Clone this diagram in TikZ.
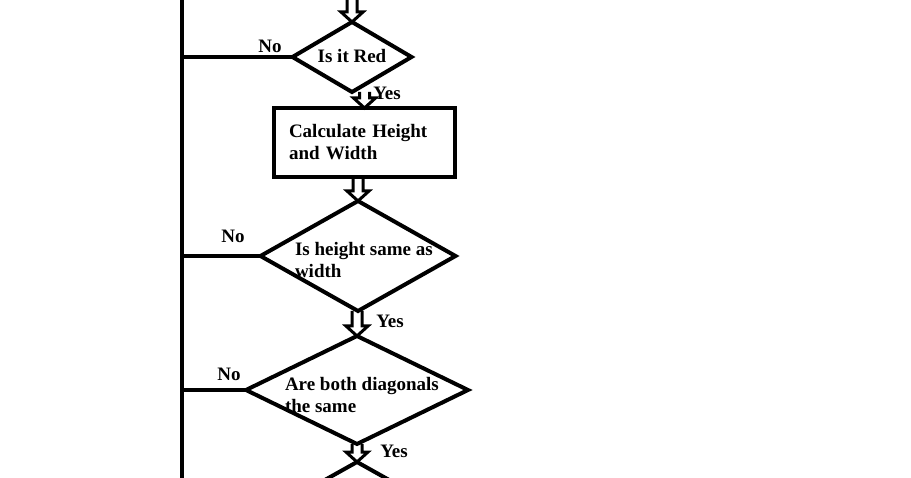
\documentclass[tikz,border=0pt]{standalone}
\usepackage{fontspec}
\setmainfont{Liberation Serif}
\usetikzlibrary{shapes.geometric,calc}

% hollow block arrow pointing down onto the second node
\newcommand{\hollowarrow}[2]{%
  \draw[arrowline] let \p1=(#1), \p2=(#2) in
    (\x2-5pt,\y1) -- (\x2-5pt,\y2+10pt) -- (\x2-11pt,\y2+10pt) -- (\x2,\y2)
    -- (\x2+11pt,\y2+10pt) -- (\x2+5pt,\y2+10pt) -- (\x2+5pt,\y1);%
}

\begin{document}
\begin{tikzpicture}[x=1pt,y=-1pt,
    every node/.style={font=\bfseries\fontsize{19}{22}\selectfont,inner sep=0pt,outer sep=0pt},
    decision/.style n args={2}{diamond,draw,line width=4pt,minimum width=#1,minimum height=#2},
    process/.style={draw,line width=4pt,minimum width=181pt,minimum height=69pt,text width=151pt,align=left},
    arrowline/.style={line width=3pt,line join=miter},
    rail/.style={line width=4pt}]

        \useasboundingbox (0,0) rectangle (911,478);
        \clip (0,0) rectangle (911,478);

        \node[decision={119pt}{70pt}] (isRed) at (352,57) {};
        \node (isRedText) at (352,56) {Is it Red};

        \node[process] (calc) at (364.5,142.5) {Calculate Height\\and Width};

        \node[decision={195pt}{110pt}] (isSquare) at (358,256) {};
        \node[anchor=west,align=left] (isSquareText) at (295,260) {Is height same as\\width};

        \node[decision={222pt}{108pt}] (isDiag) at (357,390) {};
        \node[anchor=west,align=left] (isDiagText) at (285,395) {Are both diagonals\\the same};

        \node[decision={200pt}{112pt}] (next) at (357,518) {};% cut off at the bottom

        \coordinate (entry) at (352,-5);
        \coordinate (railTop) at (182,-5);
        \coordinate (railBot) at (182,485);

        \hollowarrow{entry}{isRed.north}
        \hollowarrow{isRed.south}{calc.north}
        \hollowarrow{calc.south}{isSquare.north}
        \hollowarrow{isSquare.south}{isDiag.north}
        \hollowarrow{isDiag.south}{next.north}

        \draw[rail] (railTop) -- (railBot);% the no line
        \draw[rail] (isRed.west) -- (isRed.west -| railTop);
        \draw[rail] (isSquare.west) -- (isSquare.west -| railTop);
        \draw[rail] (isDiag.west) -- (isDiag.west -| railTop);

        \node (no1) at (270,46) {No};
        \node (no2) at (233,236) {No};
        \node (no3) at (229,374) {No};
        \node (yes1) at (387,93) {Yes};
        \node (yes2) at (390,321) {Yes};
        \node (yes3) at (394,451) {Yes};

\end{tikzpicture}
\end{document}
